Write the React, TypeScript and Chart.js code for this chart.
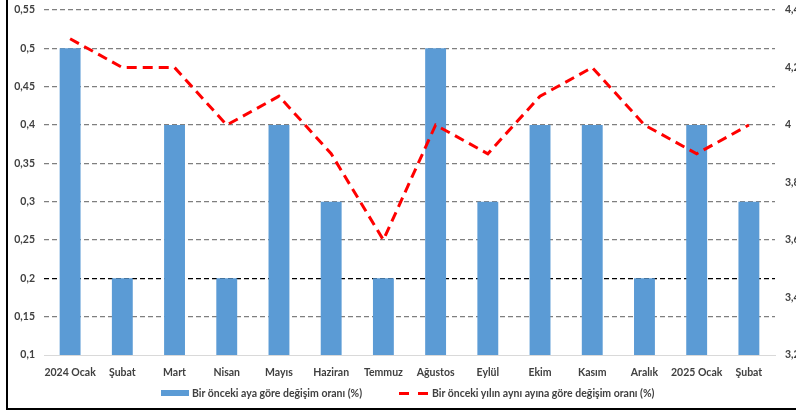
import React, { useEffect, useRef } from "react";
import { Chart, registerables } from "chart.js";

Chart.register(...registerables);

const categories = [
  "2024 Ocak", "Şubat", "Mart", "Nisan", "Mayıs", "Haziran", "Temmuz",
  "Ağustos", "Eylül", "Ekim", "Kasım", "Aralık", "2025 Ocak", "Şubat",
];
const monthlyChange = [0.5, 0.2, 0.4, 0.2, 0.4, 0.3, 0.2, 0.5, 0.3, 0.4, 0.4, 0.2, 0.4, 0.3];
const yearlyChange = [4.3, 4.2, 4.2, 4.0, 4.1, 3.9, 3.6, 4.0, 3.9, 4.1, 4.2, 4.0, 3.9, 4.0];
const barLabel = "Bir önceki aya göre değişim oranı (%)";
const lineLabel = "Bir önceki yılın aynı ayına göre değişim oranı (%)";

const FONT = "Lato, 'Liberation Sans', sans-serif";
const TEXT = "#404040";
const BAR = "#5B9BD5";
const RED = "#FF0000";

const fmt = (v: number, d: number) => String(Number(v.toFixed(d))).replace(".", ",");

export default function App() {
  const ref = useRef<HTMLCanvasElement | null>(null);

  useEffect(() => {
    if (!ref.current) return;
    const chart = new Chart(ref.current, {
      type: "bar",
      data: {
        labels: categories,
        datasets: [
          {
            type: "line",
            label: lineLabel,
            data: yearlyChange,
            yAxisID: "y1",
            borderColor: RED,
            borderWidth: 3,
            borderDash: [10, 6],
            pointRadius: 0,
            tension: 0,
            fill: false,
            order: 0,
          } as any,
          {
            type: "bar",
            label: barLabel,
            data: monthlyChange,
            yAxisID: "y",
            backgroundColor: BAR,
            barPercentage: 0.4,
            categoryPercentage: 1,
            order: 1,
          },
        ],
      },
      options: {
        responsive: false,
        animation: false,
        layout: { padding: { left: 0, right: 0, top: 10, bottom: 0 } },
        plugins: {
          legend: { display: false },
          tooltip: { enabled: false },
        },
        scales: {
          x: {
            offset: true,
            grid: { display: false, drawTicks: false },
            border: { display: true, color: "#D9D9D9", width: 1 },
            ticks: {
              autoSkip: false,
              maxRotation: 0,
              padding: 11,
              color: TEXT,
              font: { family: FONT, size: 10.5, weight: "bold" },
            },
            afterFit: (s: any) => { s.height = 57; },
          },
          y: {
            position: "left",
            min: 0.1,
            max: 0.55,
            ticks: {
              stepSize: 0.05,
              padding: 9,
              color: TEXT,
              font: { family: FONT, size: 10.5, weight: "bold" },
              callback: (v: any) => fmt(Number(v), 2),
            },
            grid: {
              drawTicks: false,
              color: (ctx: any) =>
                ctx.tick && Math.abs(ctx.tick.value - 0.2) < 1e-6 ? "#000000" : "#7F7F7F",
              lineWidth: (ctx: any) =>
                ctx.tick && Math.abs(ctx.tick.value - 0.1) < 1e-6 ? 0 : 1.3,
            },
            border: { display: false, dash: [5, 3] },
            afterFit: (s: any) => { s.width = 44; s.paddingTop = 0; s.paddingBottom = 0; },
          } as any,
          y1: {
            position: "right",
            min: 3.2,
            max: 4.4,
            ticks: {
              stepSize: 0.2,
              padding: 10,
              color: TEXT,
              font: { family: FONT, size: 10.5, weight: "bold" },
              callback: (v: any) => fmt(Number(v), 1),
            },
            grid: { display: false, drawTicks: false },
            border: { display: false },
            afterFit: (s: any) => { s.width = 21; s.paddingTop = 0; s.paddingBottom = 0; },
          },
        },
      },
    });
    return () => chart.destroy();
  }, []);

  const legendText: React.CSSProperties = {
    position: "absolute",
    top: 386,
    fontFamily: FONT,
    fontWeight: "bold",
    fontSize: 10.5,
    color: TEXT,
    whiteSpace: "nowrap",
    lineHeight: "14px",
  };

  return (
    <div
      style={{
        position: "fixed",
        left: 0,
        top: 0,
        width: 796,
        height: 412,
        overflow: "hidden",
        background: "#fff",
      }}
    >
      <canvas ref={ref} width={796} height={412} style={{ position: "absolute", left: 0, top: 0 }} />
      <div
        style={{
          position: "absolute",
          left: 6,
          top: -10,
          width: 900,
          height: 420,
          boxSizing: "border-box",
          borderLeft: "2px solid #000",
          borderBottom: "2px solid #000",
          pointerEvents: "none",
        }}
      />
      <div style={{ position: "absolute", left: 161, top: 390, width: 28, height: 6, background: BAR }} />
      <div style={{ ...legendText, left: 192 }}>{barLabel}</div>
      <div style={{ position: "absolute", left: 399, top: 392, width: 10, height: 3, background: RED }} />
      <div style={{ position: "absolute", left: 418, top: 392, width: 10, height: 3, background: RED }} />
      <div style={{ ...legendText, left: 432 }}>{lineLabel}</div>
    </div>
  );
}
